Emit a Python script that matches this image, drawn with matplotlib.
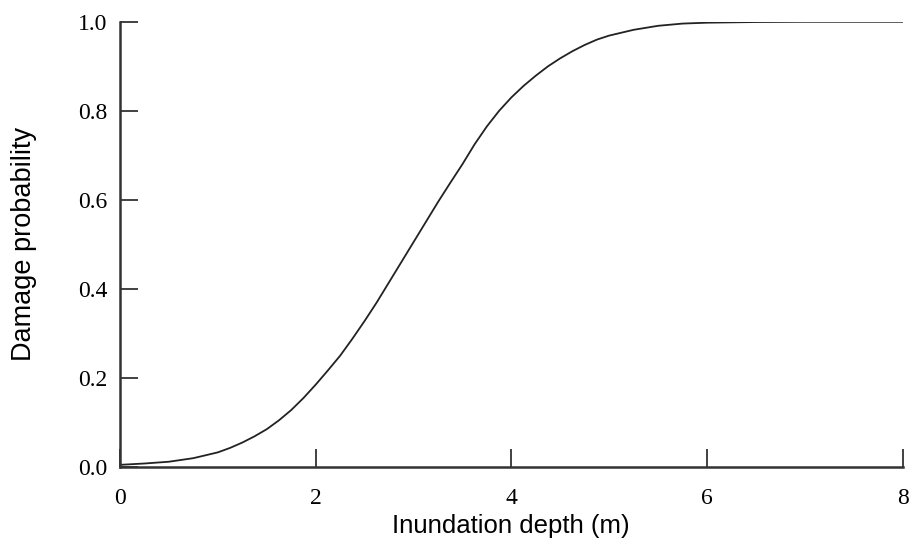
import numpy as np
import matplotlib.pyplot as plt

# inundation depth (m) and damage probability
depth = [0.0, 0.25, 0.5, 0.75, 1.0, 1.125, 1.25, 1.375, 1.5, 1.625, 1.75,
         1.875, 2.0, 2.125, 2.25, 2.375, 2.5, 2.625, 2.75, 2.875, 3.0,
         3.125, 3.25, 3.375, 3.5, 3.625, 3.75, 3.875, 4.0, 4.125, 4.25,
         4.375, 4.5, 4.625, 4.75, 4.875, 5.0, 5.25, 5.5, 5.75, 6.0, 6.5,
         7.0, 8.0]
prob = [0.005, 0.008, 0.012, 0.02, 0.033, 0.043, 0.055, 0.069, 0.085, 0.105,
        0.128, 0.155, 0.185, 0.217, 0.25, 0.288, 0.328, 0.37, 0.415, 0.46,
        0.505, 0.55, 0.595, 0.638, 0.68, 0.725, 0.765, 0.80, 0.83, 0.856,
        0.879, 0.90, 0.918, 0.934, 0.948, 0.96, 0.969, 0.982, 0.991, 0.996,
        0.998, 0.9995, 1.0, 1.0]

xticks = [0, 2, 4, 6, 8]
yticks = [0.0, 0.2, 0.4, 0.6, 0.8, 1.0]

fig = plt.figure(figsize=(9.09, 5.45), dpi=100)
ax = fig.add_axes([0.132, 0.143, 0.861, 0.817])

ax.plot(depth, prob, color="#222222", linewidth=1.3)

ax.set_xlim(0, 8)
ax.set_ylim(0, 1.0)
ax.spines["top"].set_visible(False)
ax.spines["right"].set_visible(False)
for s in ("left", "bottom"):
    ax.spines[s].set_linewidth(1.8)
    ax.spines[s].set_color("#333333")

ax.set_xticks(xticks)
ax.set_yticks(yticks)
ax.set_xticklabels([str(t) for t in xticks])
ax.set_yticklabels(["%.1f" % t for t in yticks])
ax.tick_params(direction="in", length=13, width=1.3, color="#333333",
               labelsize=17, pad=9)
ax.tick_params(axis="x", pad=15)
for lab in ax.get_xticklabels() + ax.get_yticklabels():
    lab.set_family("Liberation Serif")

ax.set_xlabel("Inundation depth (m)", family="Liberation Sans", fontsize=18.5,
              labelpad=4)
ax.set_ylabel("Damage probability", family="Liberation Sans", fontsize=19.5)
ax.yaxis.set_label_coords(-0.106, 0.5)

fig.savefig("out.png", dpi=100)
